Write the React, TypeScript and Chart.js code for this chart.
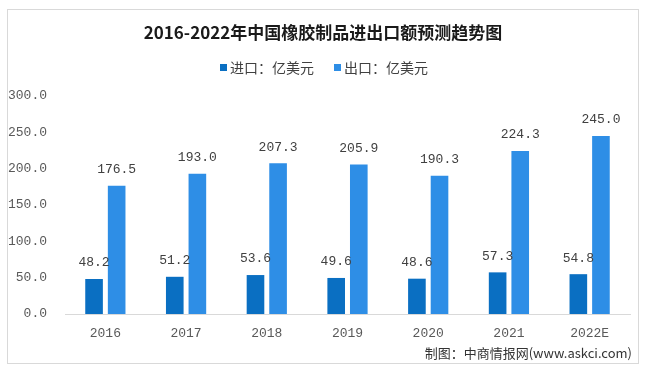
import React, { useEffect, useRef } from "react";
import { Chart, registerables } from "chart.js";

Chart.register(...registerables);

const categories = ["2016", "2017", "2018", "2019", "2020", "2021", "2022E"];
const importValues = [48.2, 51.2, 53.6, 49.6, 48.6, 57.3, 54.8];
const exportValues = [176.5, 193.0, 207.3, 205.9, 190.3, 224.3, 245.0];
const seriesNames = ["进口：亿美元", "出口：亿美元"];
const seriesColors = ["#0A6FC2", "#2E8EE6"];
const yMin = 0;
const yMax = 300;
const yStep = 50;
const titleText = "2016-2022年中国橡胶制品进出口额预测趋势图";
const sourceText = "制图：中商情报网(www.askci.com)";

const CJK = '"Noto Sans CJK SC", "Noto Sans", sans-serif';
const MONO = '"Liberation Mono", "DejaVu Sans Mono", monospace';

const decorPlugin = {
  id: "decor",
  afterDraw(chart: any) {
    const ctx = chart.ctx;
    ctx.save();
    // frame
    ctx.strokeStyle = "#d9d9d9";
    ctx.lineWidth = 1;
    ctx.strokeRect(7.5, 9.5, 631, 354);
    // title
    ctx.fillStyle = "#1a1a1a";
    ctx.font = `bold 17px ${CJK}`;
    ctx.textAlign = "center";
    ctx.textBaseline = "middle";
    ctx.fillText(titleText, 323, 33);
    // legend
    ctx.font = `14px ${CJK}`;
    ctx.textAlign = "left";
    const legendX = [220, 334];
    seriesNames.forEach((name, i) => {
      ctx.fillStyle = seriesColors[i];
      ctx.fillRect(legendX[i], 64, 7, 7);
      ctx.fillStyle = "#404040";
      ctx.fillText(name, legendX[i] + 10, 68);
    });
    // value labels
    ctx.font = `13px ${MONO}`;
    ctx.textAlign = "center";
    ctx.fillStyle = "#404040";
    chart.data.datasets.forEach((ds: any, di: number) => {
      const meta = chart.getDatasetMeta(di);
      meta.data.forEach((el: any, i: number) => {
        ctx.fillText(Number(ds.data[i]).toFixed(1), el.x, el.y - 16);
      });
    });
    // source
    ctx.font = `13px ${CJK}`;
    ctx.textAlign = "right";
    ctx.fillStyle = "#333333";
    ctx.fillText(sourceText, 632, 353);
    ctx.restore();
  },
};

export default function App() {
  const ref = useRef<HTMLCanvasElement>(null);
  useEffect(() => {
    if (!ref.current) return;
    const chart = new Chart(ref.current, {
      type: "bar",
      data: {
        labels: categories,
        datasets: [
          {
            label: seriesNames[0],
            data: importValues,
            backgroundColor: seriesColors[0],
            categoryPercentage: 0.56,
            barPercentage: 0.78,
          },
          {
            label: seriesNames[1],
            data: exportValues,
            backgroundColor: seriesColors[1],
            categoryPercentage: 0.56,
            barPercentage: 0.78,
          },
        ],
      },
      options: {
        responsive: false,
        animation: false,
        devicePixelRatio: 1,
        layout: { padding: { top: 96, right: 21, bottom: 0, left: 0 } },
        plugins: {
          legend: { display: false },
          title: { display: false },
          tooltip: { enabled: false },
        },
        scales: {
          x: {
            grid: { display: false, drawTicks: false },
            border: { display: true, color: "#d9d9d9", width: 1 },
            ticks: {
              color: "#595959",
              font: { family: MONO, size: 13 },
              padding: 12,
              maxRotation: 0,
            },
            afterFit(scale: any) {
              scale.height = 57;
            },
          },
          y: {
            min: yMin,
            max: yMax,
            grid: { display: false, drawTicks: false },
            border: { display: false },
            ticks: {
              stepSize: yStep,
              color: "#595959",
              font: { family: MONO, size: 13 },
              padding: 18,
              callback: (v: any) => Number(v).toFixed(1),
            },
            afterFit(scale: any) {
              scale.width = 65;
            },
          },
        },
      },
      plugins: [decorPlugin],
    });
    return () => chart.destroy();
  }, []);
  return (
    <div style={{ position: "fixed", left: 0, top: 0, width: 651, height: 371, background: "#ffffff" }}>
      <canvas ref={ref} width={651} height={371} style={{ display: "block" }} />
    </div>
  );
}
